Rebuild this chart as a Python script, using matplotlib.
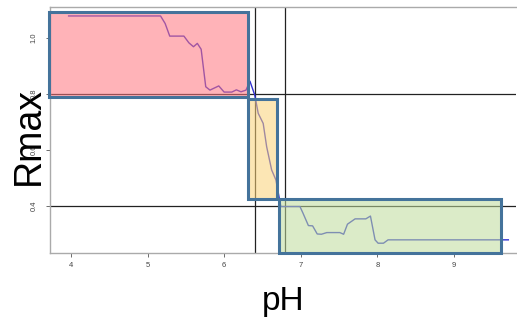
import matplotlib
matplotlib.use("Agg")
import matplotlib.pyplot as plt
from matplotlib.patches import Rectangle

plt.rcParams['font.family'] = ['Liberation Sans', 'DejaVu Sans']

ph = [3.97, 5.17, 5.23, 5.29, 5.475, 5.54, 5.60, 5.65, 5.70, 5.76, 5.815, 5.93,
      6.00, 6.10, 6.16, 6.22, 6.285, 6.337, 6.40, 6.445, 6.51, 6.555, 6.62,
      6.676, 6.74, 6.76, 6.99, 7.03, 7.10, 7.155, 7.215, 7.27, 7.34, 7.51,
      7.56, 7.61, 7.71, 7.85, 7.91, 7.97, 8.01, 8.08, 8.14, 9.71]
rmax = [1.079, 1.079, 1.052, 1.007, 1.007, 0.983, 0.969, 0.981, 0.960, 0.826,
        0.814, 0.829, 0.807, 0.807, 0.815, 0.808, 0.814, 0.846, 0.796, 0.731,
        0.695, 0.612, 0.529, 0.493, 0.398, 0.398, 0.398, 0.374, 0.330, 0.329,
        0.300, 0.299, 0.305, 0.305, 0.299, 0.335, 0.354, 0.354, 0.364, 0.279,
        0.267, 0.267, 0.279, 0.279]

hlines = [0.8, 0.4]
vlines = [6.40, 6.80]

# regions: (x0, x1, y0, y1, color)
regions = [
    (3.72, 6.31, 0.789, 1.093, '#ff757e'),
    (6.31, 6.69, 0.425, 0.782, '#fbd277'),
    (6.71, 9.61, 0.232, 0.425, '#bfdc9b'),
]

xticks = [4, 5, 6, 7, 8, 9]
yticks = [0.4, 0.6, 0.8, 1.0]

fig = plt.figure(figsize=(5.17, 3.25), dpi=100)
ax = fig.add_axes([50/517, 1-253/325, 466/517, 246/325])
ax.set_xlim(3.727, 9.81)
ax.set_ylim(0.232, 1.111)

ax.plot(ph, rmax, color='#3030d0', lw=1.0, zorder=2)
for h in hlines:
    ax.axhline(h, color='#222222', lw=0.9, zorder=1)
for v in vlines:
    ax.axvline(v, color='#222222', lw=0.9, zorder=1)

for x0, x1, y0, y1, c in regions:
    ax.add_patch(Rectangle((x0, y0), x1 - x0, y1 - y0, facecolor=c, alpha=0.55,
                           edgecolor='none', zorder=3, clip_on=False))
    ax.add_patch(Rectangle((x0, y0), x1 - x0, y1 - y0, facecolor='none',
                           edgecolor='#44739b', lw=2.2, zorder=4, clip_on=False))

ax.set_xticks(xticks)
ax.set_xticklabels([str(t) for t in xticks])
ax.set_yticks(yticks)
ax.set_yticklabels([f"{t:.1f}" for t in yticks], rotation=90, va='center')
ax.tick_params(axis='both', labelsize=5.5, colors='#555555', length=3, width=0.6,
               labelcolor='#444444')
ax.tick_params(axis='y', pad=6)

for s in ['left', 'bottom', 'top']:
    ax.spines[s].set_color('#aaaaaa')
    ax.spines[s].set_linewidth(1.0)
ax.spines['right'].set_visible(False)

ax.set_xlabel('pH', fontsize=24, labelpad=12)
fig.text(0.055, 1-136/325, 'Rmax', rotation=90, fontsize=27, ha='center', va='center')

fig.savefig('out.png', dpi=100)
